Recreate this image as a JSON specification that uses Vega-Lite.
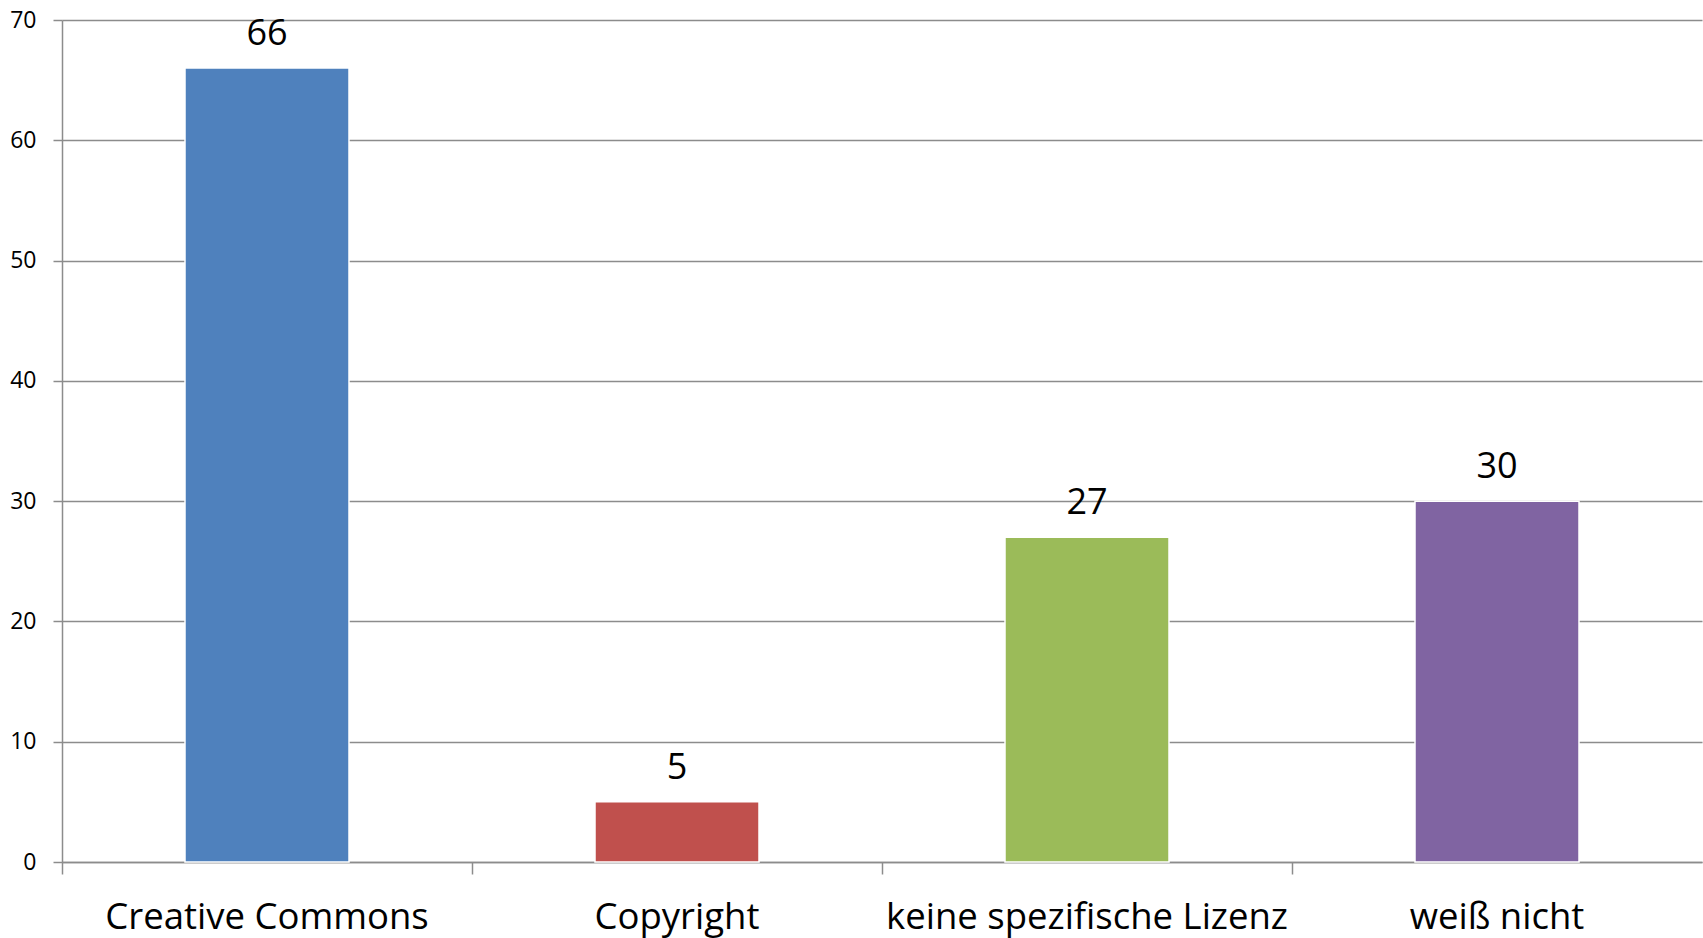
{
  "$schema": "https://vega.github.io/schema/vega-lite/v6.json",
  "autosize": "none",
  "padding": {"left": 62, "top": 20, "right": 1, "bottom": 76},
  "width": 1640,
  "height": 842,
  "background": "white",
  "data": {
    "values": [
      {"category": "Creative Commons", "count": 66},
      {"category": "Copyright", "count": 5},
      {"category": "keine spezifische Lizenz", "count": 27},
      {"category": "weiß nicht", "count": 30}
    ]
  },
  "config": {
    "view": {"stroke": null},
    "font": "Open Sans"
  },
  "encoding": {
    "x": {
      "field": "category",
      "type": "nominal",
      "sort": null,
      "scale": {"paddingInner": 0, "paddingOuter": 0},
      "axis": {
        "title": null,
        "labelAngle": 0,
        "labelLimit": 0,
        "labelFont": "Open Sans",
        "labelFontSize": 36.5,
        "labelColor": "#000000",
        "labelBaseline": "alphabetic",
        "labelPadding": 54,
        "bandPosition": 0,
        "tickSize": 12,
        "tickColor": "#8c8c8c",
        "tickWidth": 1.5,
        "domainColor": "#8c8c8c",
        "domainWidth": 1.5,
        "grid": false
      }
    },
    "y": {
      "field": "count",
      "type": "quantitative",
      "scale": {"domain": [0, 70], "nice": false},
      "axis": {
        "title": null,
        "values": [0, 10, 20, 30, 40, 50, 60, 70],
        "labelFont": "Open Sans",
        "labelFontSize": 23,
        "labelColor": "#000000",
        "labelPadding": 17,
        "tickSize": 9,
        "tickColor": "#8c8c8c",
        "tickWidth": 1.5,
        "domainColor": "#8c8c8c",
        "domainWidth": 1.5,
        "grid": true,
        "gridColor": "#8c8c8c",
        "gridWidth": 1.5
      }
    }
  },
  "layer": [
    {
      "mark": {"type": "bar", "width": {"band": 0.4}, "stroke": "white", "strokeWidth": 1.5},
      "encoding": {
        "color": {
          "field": "category",
          "type": "nominal",
          "sort": null,
          "scale": {
            "domain": ["Creative Commons", "Copyright", "keine spezifische Lizenz", "weiß nicht"],
            "range": ["#4F81BD", "#C0504D", "#9BBB59", "#8064A2"]
          },
          "legend": null
        }
      }
    },
    {
      "mark": {"type": "text", "font": "Open Sans", "fontSize": 36, "color": "#000000", "baseline": "alphabetic", "dy": -23},
      "encoding": {
        "text": {"field": "count", "type": "quantitative"}
      }
    }
  ]
}
